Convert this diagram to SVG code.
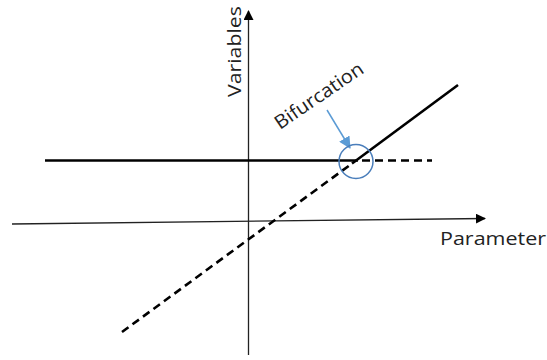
<svg xmlns="http://www.w3.org/2000/svg" width="547" height="360" viewBox="0 0 547 360">
<style>
.axis{stroke:#222;stroke-width:1.3;fill:none}
.solid{stroke:#000;stroke-width:2.6;fill:none}
.dash{stroke:#000;stroke-width:2.6;fill:none;stroke-dasharray:8 5}
.lbl{font-family:"Open Sans","Liberation Sans",sans-serif;fill:#222}
</style>
<defs>
<marker id="ah" markerWidth="10" markerHeight="10" refX="9" refY="5" orient="auto" markerUnits="userSpaceOnUse"><path d="M0,0 L10,5 L0,10 Z" fill="#000"/></marker>
<marker id="bh" markerWidth="12" markerHeight="12" refX="11" refY="6" orient="auto" markerUnits="userSpaceOnUse"><path d="M0,0 L12,6 L0,12 Z" fill="#5b9bd5"/></marker>
</defs>
<g id="connectors">
<line class="axis" x1="12" y1="224" x2="485" y2="218.5" marker-end="url(#ah)"/>
<line class="axis" x1="248.5" y1="355" x2="248.5" y2="11" marker-end="url(#ah)"/>
<line class="solid" x1="45" y1="160.5" x2="358" y2="160.5"/>
<line class="dash" x1="362" y1="160.5" x2="432" y2="160.5"/>
<line class="dash" x1="122" y1="332" x2="352" y2="163.5"/>
<line class="solid" x1="352" y1="163.5" x2="458" y2="85"/>
<line x1="327" y1="110" x2="350" y2="148" stroke="#5b9bd5" stroke-width="1.5" marker-end="url(#bh)"/>
</g>
<g id="bifurcation-point"><circle cx="356" cy="161.5" r="17" fill="none" stroke="#4a7ebb" stroke-width="1.5"/></g>
<g id="label-variables"><text class="lbl" font-size="18" transform="translate(241,97) rotate(-90)" textLength="91" lengthAdjust="spacingAndGlyphs">Variables</text></g>
<g id="label-parameter"><text class="lbl" font-size="18" x="440" y="245" textLength="106" lengthAdjust="spacingAndGlyphs">Parameter</text></g>
<g id="label-bifurcation"><text class="lbl" font-size="19" transform="translate(280,130) rotate(-34.3)" textLength="103" lengthAdjust="spacingAndGlyphs">Bifurcation</text></g>
</svg>
